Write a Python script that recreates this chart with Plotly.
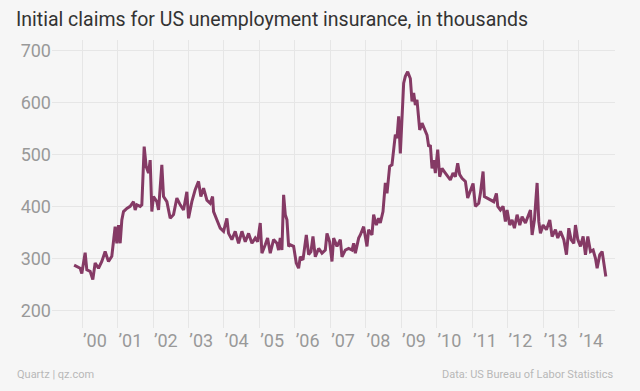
import plotly.graph_objects as go

# Week position as decimal year, and initial claims (thousands)
week_year = [
    1999.774, 1999.868, 1999.944, 1999.991, 2000.085, 2000.132, 2000.226, 2000.301, 2000.367, 2000.461,
    2000.555, 2000.649, 2000.743, 2000.837, 2000.931, 2000.978, 2001.026, 2001.073, 2001.120, 2001.167,
    2001.261, 2001.355, 2001.449, 2001.496, 2001.543, 2001.637, 2001.684, 2001.750, 2001.806, 2001.872,
    2001.919, 2001.966, 2002.013, 2002.107, 2002.155, 2002.248, 2002.296, 2002.390, 2002.484, 2002.578,
    2002.672, 2002.766, 2002.860, 2002.954, 2003.001, 2003.095, 2003.189, 2003.283, 2003.349, 2003.425,
    2003.519, 2003.613, 2003.679, 2003.707, 2003.801, 2003.895, 2003.989, 2004.083, 2004.130, 2004.224,
    2004.318, 2004.412, 2004.507, 2004.601, 2004.695, 2004.789, 2004.883, 2004.949, 2005.024, 2005.071,
    2005.165, 2005.231, 2005.306, 2005.400, 2005.494, 2005.541, 2005.588, 2005.635, 2005.683, 2005.730,
    2005.777, 2005.824, 2005.871, 2005.965, 2006.040, 2006.106, 2006.153, 2006.229, 2006.323, 2006.388,
    2006.454, 2006.511, 2006.577, 2006.671, 2006.765, 2006.859, 2006.906, 2006.981, 2007.047, 2007.094,
    2007.188, 2007.282, 2007.329, 2007.423, 2007.517, 2007.612, 2007.659, 2007.706, 2007.800, 2007.846,
    2007.940, 2008.034, 2008.081, 2008.175, 2008.222, 2008.298, 2008.363, 2008.410, 2008.486, 2008.552,
    2008.599, 2008.674, 2008.740, 2008.787, 2008.834, 2008.881, 2008.928, 2008.975, 2009.022, 2009.069,
    2009.116, 2009.182, 2009.257, 2009.304, 2009.351, 2009.398, 2009.445, 2009.521, 2009.587, 2009.652,
    2009.728, 2009.775, 2009.822, 2009.869, 2009.916, 2009.963, 2010.029, 2010.085, 2010.151, 2010.245,
    2010.311, 2010.386, 2010.461, 2010.527, 2010.593, 2010.650, 2010.716, 2010.810, 2010.875, 2010.951,
    2011.027, 2011.092, 2011.186, 2011.234, 2011.309, 2011.346, 2011.422, 2011.516, 2011.610, 2011.685,
    2011.723, 2011.798, 2011.873, 2011.939, 2011.986, 2012.061, 2012.127, 2012.193, 2012.268, 2012.344,
    2012.409, 2012.504, 2012.551, 2012.645, 2012.692, 2012.758, 2012.833, 2012.880, 2012.927, 2013.002,
    2013.096, 2013.190, 2013.256, 2013.350, 2013.416, 2013.491, 2013.586, 2013.661, 2013.727, 2013.792,
    2013.868, 2013.915, 2013.981, 2014.056, 2014.131, 2014.197, 2014.263, 2014.338, 2014.413, 2014.479,
    2014.526, 2014.601, 2014.667, 2014.714, 2014.771,
]
claims = [
    288, 285, 282, 272, 312, 279, 276, 260, 292, 282,
    295, 314, 295, 305, 362, 330, 365, 330, 375, 391,
    397, 401, 410, 394, 404, 401, 404, 516, 478, 465,
    490, 391, 420, 410, 394, 481, 420, 410, 378, 385,
    417, 404, 394, 429, 378, 410, 433, 449, 420, 436,
    413, 407, 420, 391, 375, 359, 353, 378, 349, 337,
    353, 330, 353, 333, 349, 330, 340, 333, 369, 311,
    327, 340, 311, 337, 330, 317, 340, 317, 423, 385,
    375, 324, 327, 324, 292, 282, 304, 298, 346, 308,
    314, 343, 304, 320, 311, 317, 349, 333, 295, 340,
    324, 337, 304, 317, 320, 317, 330, 311, 340, 346,
    362, 324, 356, 346, 385, 365, 378, 369, 391, 446,
    426, 478, 481, 510, 539, 532, 574, 503, 587, 638,
    651, 660, 647, 603, 619, 596, 606, 548, 561, 551,
    538, 516, 519, 474, 490, 465, 510, 458, 474, 465,
    458, 452, 465, 458, 484, 462, 455, 449, 417, 433,
    445, 401, 407, 426, 468, 420, 417, 413, 410, 426,
    401, 394, 401, 372, 394, 365, 375, 359, 385, 365,
    381, 369, 378, 394, 346, 375, 446, 372, 349, 365,
    356, 375, 343, 356, 340, 353, 337, 308, 359, 337,
    330, 365, 337, 324, 343, 308, 343, 314, 317, 301,
    282, 308, 314, 289, 266,
]

years = list(range(2000, 2015))
year_labels = ["\u2019%02d" % (y % 100) for y in years]
y_ticks = [200, 300, 400, 500, 600, 700]

LINE = "#853a65"
BG = "#f6f6f6"
GRID = "#e6e6e6"

fig = go.Figure()
fig.add_trace(go.Scatter(
    x=week_year, y=claims, mode="lines",
    line=dict(color=LINE, width=3), hoverinfo="skip", showlegend=False,
))

fig.update_layout(
    width=640, height=391,
    margin=dict(l=52, r=25, t=40, b=63),
    paper_bgcolor=BG, plot_bgcolor=BG,
    font=dict(family="Roboto", color="#999999"),
    title=dict(
        text="Initial claims for US unemployment insurance, in thousands",
        xref="container", yref="container", x=16/640, y=1-19/391,
        xanchor="left", yanchor="middle",
        font=dict(family="Roboto", size=19.5, color="#333333"),
    ),
)

fig.update_xaxes(
    range=[1999.15, 2015.03],
    tickmode="array", tickvals=[y + 0.36 for y in years], ticktext=year_labels,
    showgrid=False, zeroline=False, showline=False, ticks="",
    tickfont=dict(family="Roboto", size=18, color="#999999"),
    minor=dict(tickmode="array", tickvals=years, showgrid=True, gridcolor=GRID, gridwidth=1, ticks=""),
    fixedrange=True, automargin=False,
)
fig.update_yaxes(
    range=[167, 721],
    tickmode="array", tickvals=y_ticks, ticktext=[str(v) for v in y_ticks],
    showgrid=True, gridcolor=GRID, gridwidth=1,
    zeroline=False, showline=False, ticks="",
    tickfont=dict(family="Roboto", size=18, color="#999999"),
    fixedrange=True, automargin=False,
)

fig.add_annotation(
    text="Quartz | qz.com", xref="paper", yref="paper",
    x=-37/563, y=-(374-328)/288, xanchor="left", yanchor="middle",
    showarrow=False, font=dict(family="Roboto", size=11, color="#b8b8b8"),
)
fig.add_annotation(
    text="Data: US Bureau of Labor Statistics", xref="paper", yref="paper",
    x=1.0, y=-(374-328)/288, xanchor="right", yanchor="middle",
    showarrow=False, font=dict(family="Roboto", size=11, color="#b8b8b8"),
)

fig.write_html(
    "out.html",
    config={"displayModeBar": False},
    post_script="document.body.style.margin='0';document.body.style.background='#f6f6f6';",
)
